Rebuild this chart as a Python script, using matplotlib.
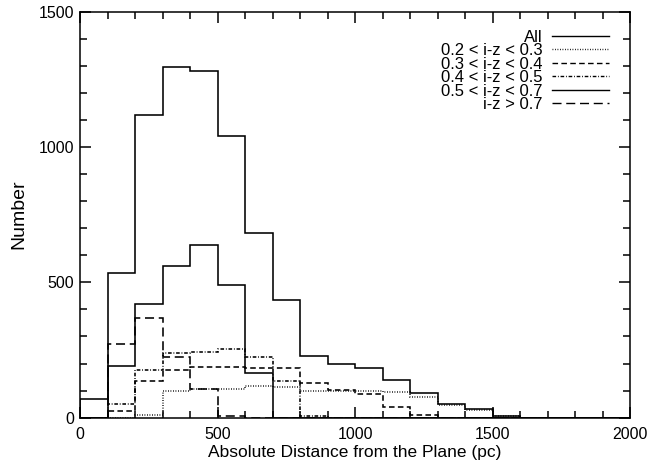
import numpy as np
import matplotlib
matplotlib.use("Agg")
import matplotlib.pyplot as plt
from matplotlib.lines import Line2D

plt.rcParams["font.family"] = ["Liberation Sans", "DejaVu Sans"]
plt.rcParams["lines.scale_dashes"] = False

# bin edges (pc) and counts per bin
edges = np.arange(0, 2001, 100)

all_counts = [68, 536, 1117, 1295, 1279, 1042, 683, 435, 228, 200,
              182, 139, 90, 51, 32, 6, 0, 0, 0, 0]
iz_02_03 = [0, 0, 10, 97, 105, 106, 118, 112, 97, 98,
            98, 96, 75, 46, 30, 5, 0, 0, 0, 0]
iz_03_04 = [0, 25, 137, 176, 186, 186, 182, 185, 127, 102,
            86, 41, 11, 0, 0, 0, 0, 0, 0, 0]
iz_04_05 = [0, 50, 176, 240, 244, 252, 223, 137, 6, 0,
            0, 0, 0, 0, 0, 0, 0, 0, 0, 0]
iz_05_07 = [0, 191, 419, 561, 637, 490, 164, 0, 0, 0,
            0, 0, 0, 0, 0, 0, 0, 0, 0, 0]
iz_gt_07 = [0, 272, 370, 225, 105, 6, 0, 0, 0, 0,
            0, 0, 0, 0, 0, 0, 0, 0, 0, 0]

labels = ["All", "0.2 < i-z < 0.3", "0.3 < i-z < 0.4",
          "0.4 < i-z < 0.5", "0.5 < i-z < 0.7", "i-z > 0.7"]
series = [all_counts, iz_02_03, iz_03_04, iz_04_05, iz_05_07, iz_gt_07]
styles = ["-", (0, (0.6, 1.2)), (0, (4.0, 2.4)),
          (0, (2.6, 1.3, 0.6, 1.3)), "-", (0, (6.5, 3.4))]

fig = plt.figure(figsize=(6.52, 4.66), dpi=100)
ax = fig.add_axes([0.1227, 0.1036, 0.8436, 0.8717])

for vals, ls in zip(series, styles):
    ax.stairs(vals, edges, baseline=0, color="black", linewidth=1.15, linestyle=ls)

ax.set_xlim(0, 2000)
ax.set_ylim(0, 1500)
ax.set_xticks([0, 500, 1000, 1500, 2000])
ax.set_yticks([0, 500, 1000, 1500])
ax.set_xticks(np.arange(0, 2001, 100), minor=True)
ax.set_yticks(np.arange(0, 1501, 100), minor=True)
ax.tick_params(which="both", direction="in", top=True, right=True, width=1.1)
ax.tick_params(which="major", length=7.9, labelsize=11.5)
ax.tick_params(which="minor", length=4.8)
ax.tick_params(axis="x", pad=6.5)
ax.tick_params(axis="y", pad=4.5)
for s in ax.spines.values():
    s.set_linewidth(1.1)

ax.set_xlabel("Absolute Distance from the Plane (pc)", fontsize=12.5, labelpad=2)
ax.set_ylabel("Number", fontsize=14, labelpad=8)

handles = [Line2D([], [], color="black", linewidth=1.0, linestyle=ls) for ls in styles]
ax.legend(handles, labels, loc="upper right", bbox_to_anchor=(0.962, 0.955),
          frameon=False, markerfirst=False, fontsize=12, handlelength=3.4,
          handletextpad=0.6, labelspacing=-0.09, borderpad=0, borderaxespad=0)

fig.savefig("out.png", dpi=100)
